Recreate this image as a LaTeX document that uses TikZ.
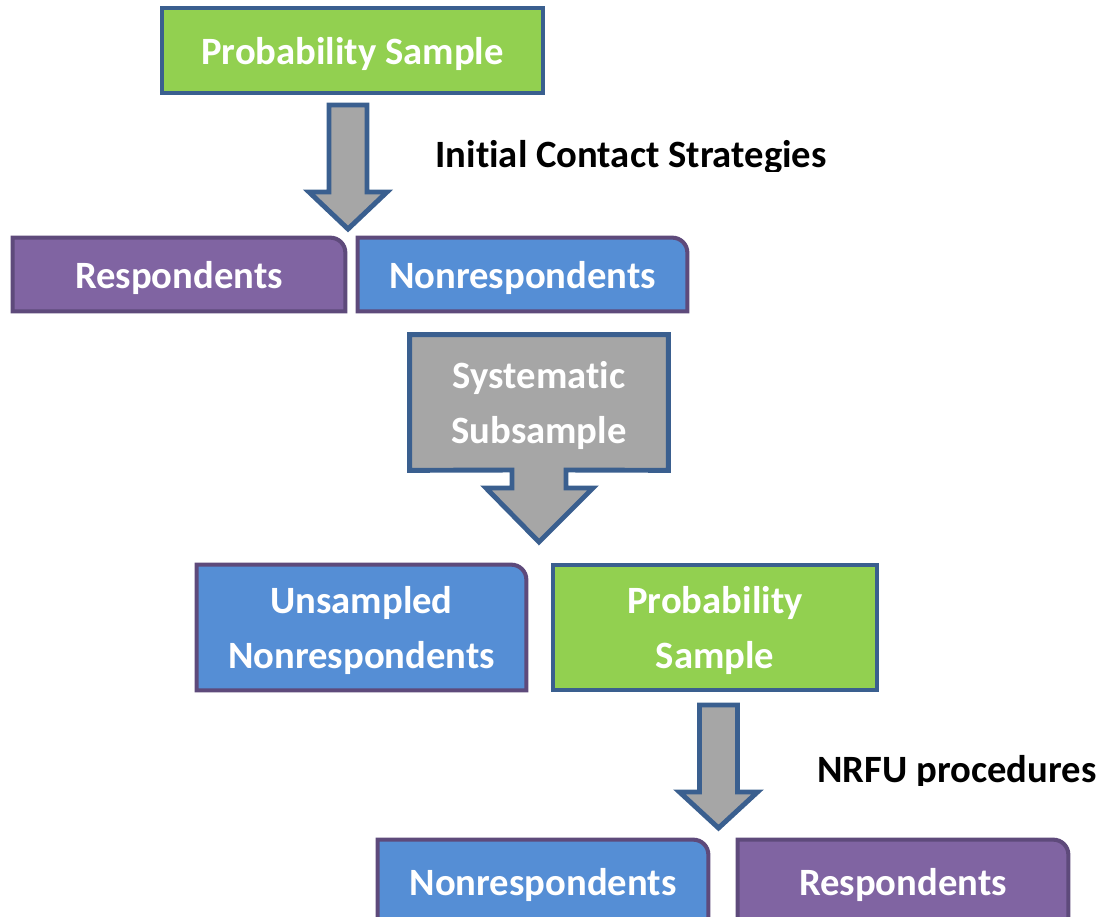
\documentclass[tikz,border=0pt]{standalone}
\usepackage{fontspec}
\setmainfont[Ligatures=NoCommon]{Carlito}
\usepackage{tikz}
\usetikzlibrary{backgrounds}
\definecolor{boxgreen}{HTML}{92D050}
\definecolor{boxpurple}{HTML}{8064A2}
\definecolor{boxblue}{HTML}{558ED5}
\definecolor{arrowgray}{HTML}{A6A6A6}
\definecolor{edgeblue}{HTML}{3A5F8F}
\definecolor{edgepurple}{HTML}{5E4A7B}
\def\px{0.02cm}
\tikzset{
  boxtext/.style={text=white, font=\bfseries\fontsize{22pt}{31pt}\selectfont, align=center, inner sep=0pt, text depth=0pt},
  plainbox/.style={boxtext, draw=edgeblue, line width=2.3pt},
  tabedge/.style={draw=edgepurple, line width=2.3pt},
  blockarrow/.style={draw=edgeblue, fill=arrowgray, line width=2.8pt, line join=miter},
  steplabel/.style={font=\bfseries\fontsize{22pt}{26pt}\selectfont, inner sep=0pt}
}
% box with rounded top right corner
\newcommand{\tabbox}[2]{%
  \begin{scope}[on background layer]
    \draw[tabedge, fill=#2] (#1.south west) -- (#1.north west)
      -- ([xshift=-0.3cm]#1.north east) arc[start angle=90, end angle=0, radius=0.3cm]
      -- (#1.south east) -- cycle;
  \end{scope}}
% downward block arrow: centre x, top, base of head, tip
\newcommand{\downblock}[4]{%
  \draw[blockarrow] (#1-19,#2) -- (#1+19,#2) -- (#1+19,#3) -- (#1+39,#3)
    -- (#1,#4) -- (#1-39,#3) -- (#1-19,#3) -- cycle;}
\begin{document}
\begin{tikzpicture}[x=0.02cm, y=-0.02cm]
  \clip (0,0) rectangle (1101,916);

  % top sample
  \node[plainbox, fill=boxgreen, minimum width=381*\px, minimum height=85*\px] (prob) at (352.5,50.5) {Probability Sample};
  \downblock{348}{105}{192}{229}
  \begin{scope}
    \clip (400,120) rectangle (860,171);
    \node[steplabel, anchor=base] (initial) at (631,167) {Initial Contact Strategies};
  \end{scope}

  % first split
  \node[boxtext, minimum width=332*\px, minimum height=73*\px] (resp) at (179,274.5) {Respondents};
  \tabbox{resp}{boxpurple}
  \node[boxtext, minimum width=329*\px, minimum height=73*\px] (nonresp) at (522.5,274.5) {Nonrespondents};
  \tabbox{nonresp}{boxblue}

  % subsample callout
  \node[boxtext, minimum width=258*\px, minimum height=135*\px] (subsample) at (539,402.5) {Systematic\\Subsample};
  \begin{scope}[on background layer]
    \draw[blockarrow] (subsample.north west) -- (subsample.north east) -- (subsample.south east)
      -- (566,470) -- (566,488) -- (593,488) -- (539,542) -- (486,488) -- (512,488) -- (512,470)
      -- (subsample.south west) -- cycle;
  \end{scope}

  % second split
  \node[boxtext, minimum width=329*\px, minimum height=125*\px] (unsamp) at (361.5,627.5) {Unsampled\\Nonrespondents};
  \tabbox{unsamp}{boxblue}
  \node[plainbox, fill=boxgreen, minimum width=324*\px, minimum height=125*\px] (prob2) at (715,627.5) {Probability\\Sample};
  \downblock{718.5}{705}{792}{828}
  \begin{scope}
    \clip (800,740) rectangle (1101,785);
    \node[steplabel, anchor=base] (nrfu) at (957,782) {NRFU procedures};
  \end{scope}

  % final split
  \node[boxtext, minimum width=330*\px, minimum height=84*\px] (nonresp2) at (543,882) {Nonrespondents};
  \tabbox{nonresp2}{boxblue}
  \node[boxtext, minimum width=330*\px, minimum height=84*\px] (resp2) at (903,882) {Respondents};
  \tabbox{resp2}{boxpurple}
\end{tikzpicture}
\end{document}
